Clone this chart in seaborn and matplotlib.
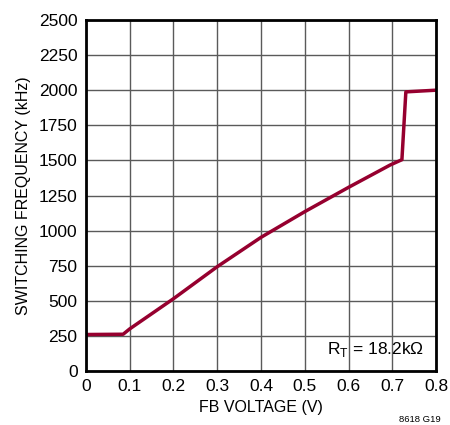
import numpy as np
import pandas as pd
import matplotlib
matplotlib.use("Agg")
import matplotlib.pyplot as plt
import seaborn as sns

# curve
fb_voltage = [0.0, 0.085, 0.1, 0.2, 0.3, 0.4, 0.5, 0.6, 0.695, 0.722, 0.731, 0.8]
sw_freq = [260, 262, 300, 515, 743, 952, 1135, 1308, 1467, 1505, 1988, 2000]

x_ticks = [0, 0.1, 0.2, 0.3, 0.4, 0.5, 0.6, 0.7, 0.8]
x_labels = ["0", "0.1", "0.2", "0.3", "0.4", "0.5", "0.6", "0.7", "0.8"]
y_ticks = list(range(0, 2501, 250))

df = pd.DataFrame({"fb": fb_voltage, "freq": sw_freq})

sns.set_style("white")
plt.rcParams["font.family"] = ["Liberation Sans Narrow", "Liberation Sans", "DejaVu Sans"]
plt.rcParams["mathtext.fontset"] = "custom"
plt.rcParams["mathtext.rm"] = "Liberation Sans"
plt.rcParams["text.color"] = "black"
plt.rcParams["axes.labelcolor"] = "black"

fig = plt.figure(figsize=(4.5, 4.25), dpi=100)
ax = fig.add_axes([0.191, 0.127, 0.778, 0.826])

sns.lineplot(data=df, x="fb", y="freq", ax=ax, color="#96002f", linewidth=2.5,
             sort=False)

ax.set_xlim(0, 0.8)
ax.set_ylim(0, 2500)
ax.set_xticks(x_ticks)
ax.set_xticklabels(x_labels)
ax.set_yticks(y_ticks)
ax.grid(True, color="#5a5a5a", linewidth=1.0)
ax.set_axisbelow(True)
for s in ax.spines.values():
    s.set_color("black")
    s.set_linewidth(2)
ax.tick_params(axis="both", direction="in", length=4, width=1, color="#555555",
               labelsize=12.5, pad=6, labelcolor="black")
ax.set_xlabel("FB VOLTAGE (V)", fontsize=11.5, labelpad=4)
ax.set_ylabel("SWITCHING FREQUENCY (kHz)", fontsize=11.5, labelpad=6)

ax.text(0.965, 0.035, r"R$_\mathregular{T}$ = 18.2k$\Omega$", transform=ax.transAxes,
        ha="right", va="bottom", fontsize=12.5)
fig.text(0.98, 0.013, "8618 G19", ha="right", va="center", fontsize=6.8)

fig.savefig("out.png", dpi=100)
